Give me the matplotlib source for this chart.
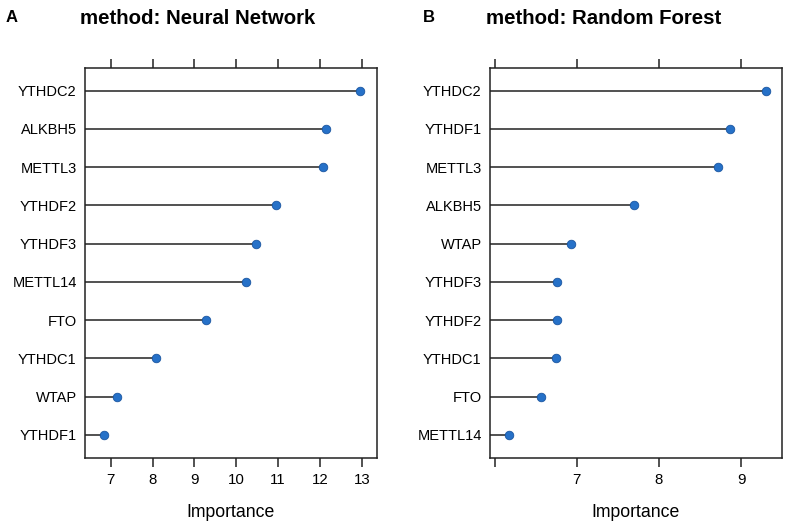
import numpy as np
import matplotlib.pyplot as plt

plt.rcParams['font.family'] = ['Liberation Sans', 'DejaVu Sans']

# panel A: neural network importance (top to bottom)
nn_genes = ['YTHDC2', 'ALKBH5', 'METTL3', 'YTHDF2', 'YTHDF3',
            'METTL14', 'FTO', 'YTHDC1', 'WTAP', 'YTHDF1']
nn_imp = [12.96, 12.15, 12.07, 10.95, 10.47, 10.24, 9.28, 8.08, 7.15, 6.83]
nn_ticks = [7, 8, 9, 10, 11, 12, 13]
nn_ticklabels = ['7', '8', '9', '10', '11', '12', '13']

# panel B: random forest importance (top to bottom)
rf_genes = ['YTHDC2', 'YTHDF1', 'METTL3', 'ALKBH5', 'WTAP',
            'YTHDF3', 'YTHDF2', 'YTHDC1', 'FTO', 'METTL14']
rf_imp = [9.30, 8.86, 8.72, 7.70, 6.93, 6.76, 6.755, 6.75, 6.56, 6.18]
rf_ticks = [6, 7, 8, 9]
rf_ticklabels = ['', '7', '8', '9']

fig = plt.figure(figsize=(7.85, 5.21), dpi=100)

def panel(rect, genes, imp, xlim, ticks, ticklabels, title, letter, title_x, letter_x):
    ax = fig.add_axes(rect)
    n = len(genes)
    y = np.arange(n)[::-1]
    ax.hlines(y, xlim[0], imp, color='#222222', lw=1.1)
    ax.scatter(imp, y, s=38, color='#2671c8', edgecolor='#1a55a0', lw=0.6, zorder=3)
    ax.set_xlim(*xlim)
    ax.set_ylim(-0.6, n - 0.4)
    ax.set_yticks(y)
    ax.set_yticklabels(genes, fontsize=10.5)
    ax.set_xticks(ticks)
    ax.set_xticklabels(ticklabels, fontsize=10.8)
    ax.tick_params(axis='y', length=0, pad=6)
    ax.tick_params(axis='x', direction='out', length=6.3, width=1.1, color='#222222',
                   top=True, labeltop=False, pad=5)
    for s in ax.spines.values():
        s.set_linewidth(1.1)
        s.set_color('#222222')
    ax.set_xlabel('Importance', fontsize=12.7, labelpad=12)
    fig.text(title_x, 1 - 18 / 521, title, fontsize=14.7, fontweight='bold',
             ha='center', va='center')
    fig.text(letter_x, 1 - 17 / 521, letter, fontsize=12, fontweight='bold',
             ha='left', va='center')
    return ax

panel([85 / 785, 63.3 / 521, 292 / 785, 390 / 521], nn_genes, nn_imp,
      (6.385, 13.366), nn_ticks, nn_ticklabels, 'method: Neural Network', 'A',
      198 / 785, 6 / 785)
panel([490 / 785, 63.3 / 521, 291.7 / 785, 390 / 521], rf_genes, rf_imp,
      (5.945, 9.495), rf_ticks, rf_ticklabels, 'method: Random Forest', 'B',
      604 / 785, 423 / 785)

fig.savefig('out.png', dpi=100)
